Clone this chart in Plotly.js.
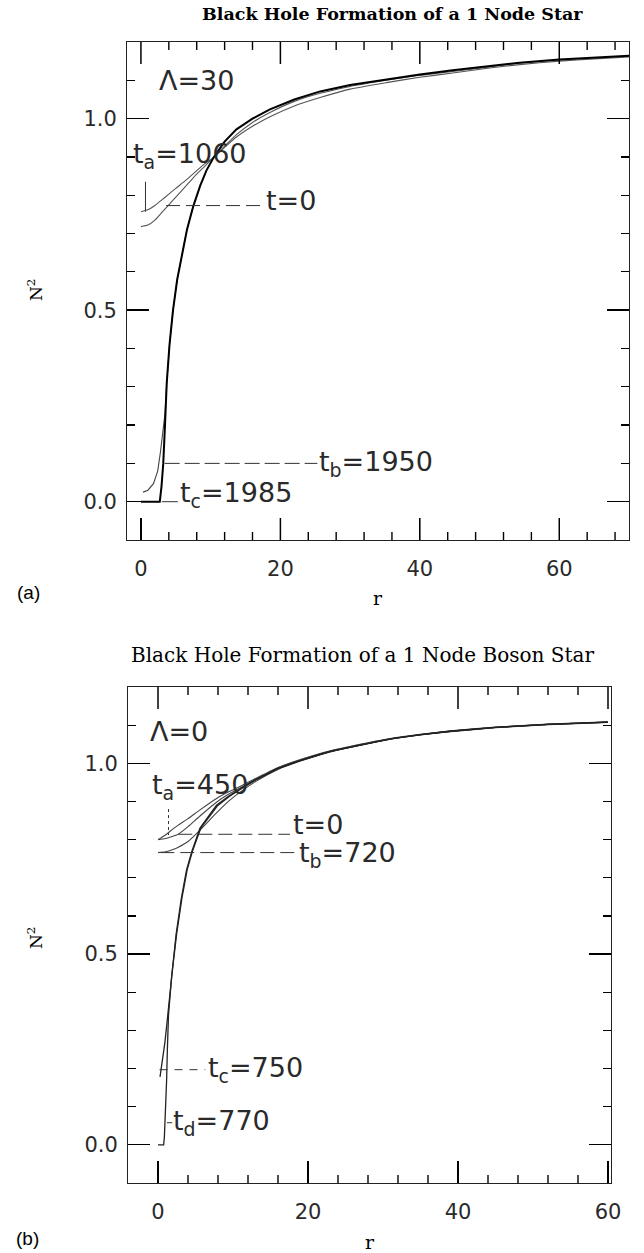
<!DOCTYPE html>
<html>
<head>
<meta charset="utf-8">
<script src="https://cdn.plot.ly/plotly-3.0.1.min.js"></script>
<style>html,body{margin:0;padding:0;background:#fff;}#chart{width:644px;height:1253px;}</style>
</head>
<body>
<div id="chart"></div>
<script>
// ---------- Panel (a): Lambda = 30 ----------
const rA_t0 = [0, 1, 2, 3, 4, 5, 6.5, 8, 9, 10.4, 12, 13.7, 16, 18.5, 22, 25.7, 30, 35.2, 40, 44.7, 50, 54.3, 60, 65, 70];
const nA_t0 = [0.718, 0.722, 0.735, 0.755, 0.775, 0.795, 0.825, 0.855, 0.873, 0.898, 0.925, 0.952, 0.98, 1.005, 1.033, 1.055, 1.077, 1.094, 1.108, 1.119, 1.132, 1.141, 1.150, 1.156, 1.161];
const rA_ta = [0, 1, 2, 3, 4, 5, 6.5, 8, 9, 10.4, 12, 13.7, 16, 18.5, 22, 25.7, 30, 35.2, 40, 44.7, 50, 54.3, 60, 65, 70];
const nA_ta = [0.757, 0.762, 0.773, 0.788, 0.803, 0.818, 0.84, 0.864, 0.88, 0.898, 0.928, 0.958, 0.99, 1.016, 1.045, 1.066, 1.084, 1.100, 1.113, 1.123, 1.135, 1.145, 1.153, 1.158, 1.163];
const rA_tb = [0.3, 1.0, 1.8, 2.4, 2.8, 3.1, 3.45, 3.7, 4.1, 4.6, 5.2, 5.8, 6.6, 7.5];
const nA_tb = [0.025, 0.03, 0.047, 0.08, 0.13, 0.18, 0.23, 0.31, 0.41, 0.5, 0.58, 0.636, 0.71, 0.771];
const rA_tc = [0, 2.7, 2.95, 3.2, 3.45, 3.7, 4.1, 4.6, 5.2, 5.8, 6.6, 7.5, 8.5, 9.4, 10.4, 12, 13.7, 16, 18.5, 22, 25.7, 30, 35.2, 40, 44.7, 50, 54.3, 60, 65, 70];
const nA_tc = [0, 0, 0.04, 0.10, 0.2, 0.31, 0.41, 0.5, 0.58, 0.636, 0.71, 0.771, 0.825, 0.865, 0.898, 0.94, 0.972, 1.0, 1.024, 1.05, 1.071, 1.088, 1.103, 1.115, 1.126, 1.137, 1.146, 1.154, 1.159, 1.164];

// labels (a)
const labA_text = ['\u039B=30', 't<sub>a</sub>=1060', 't=0', 't<sub>b</sub>=1950', 't<sub>c</sub>=1985'];
const labA_r = [2.5, -1.3, 17.8, 25.4, 5.4];
const labA_n = [1.10, 0.905, 0.785, 0.10, 0.02];
const leadA_r0 = [0.65, 3.6, 3.4, 3.0];
const leadA_r1 = [0.65, 17.9, 25.3, 5.3];
const leadA_n0 = [0.835, 0.773, 0.10, 0.0];
const leadA_n1 = [0.757, 0.773, 0.10, 0.0];
const leadA_dash = ['solid', '14px,6px', '15px,5px', 'solid'];

// ---------- Panel (b): Lambda = 0 ----------
const rB = [0, 1, 2, 2.7, 4, 5.6, 7.8, 9.5, 11, 13, 16, 19, 23, 28, 31, 35, 39, 45, 52, 60];
const nB_t0 = [0.80, 0.803, 0.809, 0.814, 0.834, 0.862, 0.898, 0.92, 0.936, 0.958, 0.988, 1.009, 1.032, 1.053, 1.064, 1.075, 1.084, 1.094, 1.102, 1.108];
const nB_ta = [0.80, 0.812, 0.828, 0.838, 0.855, 0.878, 0.908, 0.926, 0.94, 0.96, 0.989, 1.010, 1.033, 1.054, 1.065, 1.076, 1.085, 1.095, 1.103, 1.109];
const nB_tb = [0.766, 0.768, 0.774, 0.78, 0.795, 0.825, 0.87, 0.902, 0.925, 0.952, 0.984, 1.006, 1.03, 1.052, 1.063, 1.074, 1.083, 1.093, 1.101, 1.107];
const rB_tc = [0.27, 0.6, 0.93, 1.2, 1.5, 1.83, 2.4, 3.1, 3.8, 4.5, 5.6, 7.8, 9.5, 11, 13, 16, 19, 23, 28, 31, 35, 39, 45, 52, 60];
const nB_tc = [0.178, 0.222, 0.27, 0.32, 0.38, 0.444, 0.55, 0.645, 0.72, 0.768, 0.83, 0.89, 0.915, 0.934, 0.957, 0.987, 1.008, 1.031, 1.052, 1.064, 1.075, 1.084, 1.094, 1.102, 1.108];
const rB_td = [0, 0.75, 0.85, 0.95, 1.05, 1.15, 1.25, 1.4, 1.83, 2.5, 3.2, 3.9, 4.6, 5.7, 7.9, 9.5, 11, 13, 16, 19, 23, 28, 31, 35, 39, 45, 52, 60];
const nB_td = [0, 0, 0.02, 0.06, 0.11, 0.17, 0.25, 0.34, 0.444, 0.555, 0.648, 0.722, 0.77, 0.83, 0.888, 0.913, 0.932, 0.956, 0.986, 1.007, 1.031, 1.052, 1.064, 1.075, 1.084, 1.094, 1.102, 1.108];

// labels (b)
const labB_text = ['\u039B=0', 't<sub>a</sub>=450', 't=0', 't<sub>b</sub>=720', 't<sub>c</sub>=750', 't<sub>d</sub>=770'];
const labB_r = [-1.2, -1.0, 17.9, 18.7, 6.5, 1.9];
const labB_n = [1.084, 0.94, 0.84, 0.762, 0.197, 0.058];
const leadB_r0 = [1.4, 2.7, 0.3, 0.2, 1.2];
const leadB_r1 = [1.4, 17.6, 18.4, 6.3, 1.9];
const leadB_n0 = [0.88, 0.814, 0.766, 0.197, 0.058];
const leadB_n1 = [0.812, 0.814, 0.766, 0.197, 0.058];
const leadB_dash = ['dot', '14px,6px', '14px,6px', '8px,7px', 'solid'];

// r-axis tick values (both panels)
const rMajorTicks = [0, 20, 40, 60];
const rMinorTicks = [4, 8, 12, 16, 24, 28, 32, 36, 44, 48, 52, 56, 64, 68];

// ---------- build ----------
const W = 644, H = 1253;
const px = v => v / W;
const py = v => 1 - v / H;
const labelFont = {family: 'DejaVu Sans, sans-serif', size: 27, color: '#2a2a2a'};
const tickFont = {family: 'DejaVu Sans, sans-serif', size: 21, color: '#2a2a2a'};

function line(x, y, xa, ya, color, width, smooth) {
  return {x: x, y: y, xaxis: xa, yaxis: ya, type: 'scatter', mode: 'lines',
          line: smooth ? {color: color, width: width, shape: 'spline', smoothing: 0.5} : {color: color, width: width},
          hoverinfo: 'skip'};
}

const traces = [
  line(rA_t0, nA_t0, 'x', 'y', '#555', 1.1, true),
  line(rA_ta, nA_ta, 'x', 'y', '#555', 1.1, true),
  line(rA_tb, nA_tb, 'x', 'y', '#444', 1.1, false),
  line(rA_tc, nA_tc, 'x', 'y', '#000', 2.0, false),
  line(rB, nB_t0, 'x2', 'y2', '#444', 1.1, true),
  line(rB, nB_ta, 'x2', 'y2', '#444', 1.1, true),
  line(rB, nB_tb, 'x2', 'y2', '#444', 1.1, true),
  line(rB_tc, nB_tc, 'x2', 'y2', '#222', 1.3, false),
  line(rB_td, nB_td, 'x2', 'y2', '#222', 1.3, false)
];

const shapes = [];
for (let i = 0; i < leadA_r0.length; i++) {
  shapes.push({type: 'line', xref: 'x', yref: 'y', x0: leadA_r0[i], x1: leadA_r1[i], y0: leadA_n0[i], y1: leadA_n1[i],
               line: {color: '#333', width: 1, dash: leadA_dash[i]}});
}
for (let i = 0; i < leadB_r0.length; i++) {
  shapes.push({type: 'line', xref: 'x2', yref: 'y2', x0: leadB_r0[i], x1: leadB_r1[i], y0: leadB_n0[i], y1: leadB_n1[i],
               line: {color: '#333', width: 1, dash: leadB_dash[i]}});
}

// r-axis tick marks drawn inside the frame (bottom, mirrored on top), through the y-axis scale
function addRTicks(xref, yref, range, yRange, plotHeightPx) {
  const unit = (yRange[1] - yRange[0]) / plotHeightPx;
  const add = (v, lenPx, w) => {
    if (v <= range[0] || v >= range[1]) return;
    shapes.push({type: 'line', layer: 'above', xref: xref, yref: yref, x0: v, x1: v, y0: yRange[0], y1: yRange[0] + lenPx * unit,
                 line: {color: '#000', width: w}});
    shapes.push({type: 'line', layer: 'above', xref: xref, yref: yref, x0: v, x1: v, y0: yRange[1], y1: yRange[1] - lenPx * unit,
                 line: {color: '#000', width: w}});
  };
  rMajorTicks.forEach(v => add(v, 22, 1.5));
  rMinorTicks.forEach(v => add(v, 8, 1.4));
}
const nRange = [-0.1, 1.2];
addRTicks('x', 'y', [-2, 70], nRange, 498);
addRTicks('x2', 'y2', [-4, 60.4], nRange, 496);

const annotations = [];
labA_text.forEach((t, i) => annotations.push({xref: 'x', yref: 'y', x: labA_r[i], y: labA_n[i], text: t,
  showarrow: false, xanchor: 'left', yanchor: 'middle', font: labelFont, borderpad: 0}));
labB_text.forEach((t, i) => annotations.push({xref: 'x2', yref: 'y2', x: labB_r[i], y: labB_n[i], text: t,
  showarrow: false, xanchor: 'left', yanchor: 'middle', font: labelFont, borderpad: 0}));

annotations.push({xref: 'paper', yref: 'paper', x: px(392), y: py(14), text: '<b>Black Hole Formation of a 1 Node Star</b>',
  showarrow: false, xanchor: 'center', yanchor: 'middle', font: {family: 'DejaVu Serif, serif', size: 17.5, color: '#000'}});
annotations.push({xref: 'paper', yref: 'paper', x: px(362), y: py(655), text: 'Black Hole Formation of a 1 Node Boson Star',
  showarrow: false, xanchor: 'center', yanchor: 'middle', font: {family: 'DejaVu Serif, serif', size: 20, color: '#000'}});
annotations.push({xref: 'paper', yref: 'paper', x: px(28), y: py(592), text: '(a)', showarrow: false,
  xanchor: 'center', yanchor: 'middle', font: {family: 'Liberation Sans, Arial, sans-serif', size: 19, color: '#000'}});
annotations.push({xref: 'paper', yref: 'paper', x: px(27), y: py(1238), text: '(b)', showarrow: false,
  xanchor: 'center', yanchor: 'middle', font: {family: 'Liberation Sans, Arial, sans-serif', size: 19, color: '#000'}});
annotations.push({xref: 'paper', yref: 'paper', x: px(378), y: py(598), text: 'r', showarrow: false,
  xanchor: 'center', yanchor: 'middle', font: {family: 'DejaVu Serif, serif', size: 19, color: '#000'}});
annotations.push({xref: 'paper', yref: 'paper', x: px(370), y: py(1242), text: 'r', showarrow: false,
  xanchor: 'center', yanchor: 'middle', font: {family: 'DejaVu Serif, serif', size: 19, color: '#000'}});
annotations.push({xref: 'paper', yref: 'paper', x: px(35), y: py(290), text: 'N<sup>2</sup>', showarrow: false, textangle: -90,
  xanchor: 'center', yanchor: 'middle', font: {family: 'DejaVu Serif, serif', size: 17, color: '#000'}});
annotations.push({xref: 'paper', yref: 'paper', x: px(35), y: py(938), text: 'N<sup>2</sup>', showarrow: false, textangle: -90,
  xanchor: 'center', yanchor: 'middle', font: {family: 'DejaVu Serif, serif', size: 17, color: '#000'}});

function xax(domain, range, anchor) {
  return {domain: domain, range: range, anchor: anchor, showline: true, mirror: true, linecolor: '#222', linewidth: 1,
    ticks: 'inside', ticklen: 22, tickwidth: 1.3, tickcolor: '#000', tickmode: 'array', tickvals: rMajorTicks,
    ticktext: rMajorTicks.map(String),
    showgrid: false, zeroline: false, tickfont: tickFont, ticklabelstandoff: 10, fixedrange: true};
}
function yax(domain, anchor) {
  return {domain: domain, range: nRange, anchor: anchor, showline: true, mirror: 'allticks', linecolor: '#222', linewidth: 1,
    ticks: 'inside', ticklen: 22, tickwidth: 1.3, tickcolor: '#000', tick0: 0, dtick: 0.5, tickformat: '.1f',
    minor: {ticks: 'inside', ticklen: 8, tickwidth: 1.2, tickcolor: '#000', dtick: 0.1, showgrid: false},
    showgrid: false, zeroline: false, tickfont: tickFont, ticklabelstandoff: 5, fixedrange: true};
}

const layout = {
  width: W, height: H, margin: {l: 0, r: 0, t: 0, b: 0}, showlegend: false,
  paper_bgcolor: '#fff', plot_bgcolor: '#fff',
  xaxis: xax([px(127), px(629)], [-2, 70], 'y'),
  yaxis: yax([py(540), py(42)], 'x'),
  xaxis2: xax([px(128), px(611)], [-4, 60.4], 'y2'),
  yaxis2: yax([py(1183), py(687)], 'x2'),
  shapes: shapes, annotations: annotations
};

Plotly.newPlot('chart', traces, layout, {displayModeBar: false, staticPlot: true});
</script>
</body>
</html>
